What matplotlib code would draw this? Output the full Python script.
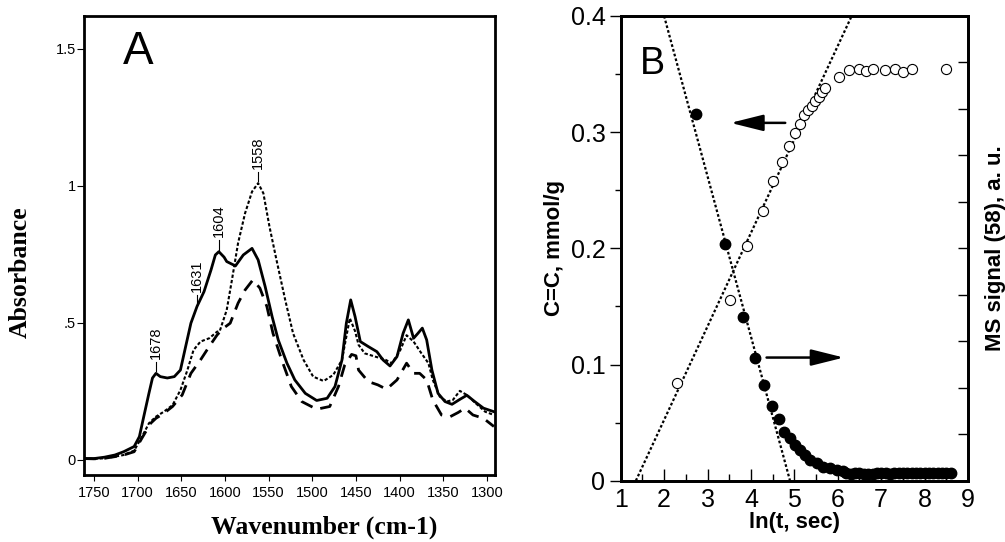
import numpy as np
from matplotlib import pyplot as plt
from matplotlib.ticker import FixedLocator, MultipleLocator

# ---- panel A : IR spectra (wavenumber, absorbance) ----
solid_wn = [1762, 1750, 1738, 1726, 1716, 1704, 1698, 1693, 1687, 1683, 1679,
            1674, 1666, 1658, 1651, 1645, 1639, 1632, 1624, 1616, 1611, 1607,
            1601, 1598, 1588, 1579, 1569, 1562, 1554, 1546, 1539, 1529, 1520,
            1508, 1495, 1483, 1474, 1466, 1461, 1456, 1451, 1445, 1436, 1426,
            1419, 1411, 1403, 1396, 1390, 1384, 1379, 1374, 1369, 1363, 1356,
            1348, 1340, 1331, 1323, 1314, 1304, 1292]
solid_ab = [0.005, 0.005, 0.010, 0.018, 0.030, 0.049, 0.085, 0.158, 0.244, 0.299,
            0.316, 0.304, 0.299, 0.304, 0.328, 0.414, 0.499, 0.560, 0.614, 0.693,
            0.748, 0.760, 0.740, 0.724, 0.708, 0.748, 0.772, 0.730, 0.633, 0.523,
            0.438, 0.353, 0.292, 0.243, 0.217, 0.225, 0.268, 0.365, 0.499, 0.584,
            0.523, 0.432, 0.414, 0.395, 0.365, 0.343, 0.377, 0.462, 0.511, 0.444,
            0.462, 0.481, 0.438, 0.328, 0.243, 0.213, 0.203, 0.221, 0.236, 0.213,
            0.189, 0.176]

dot_wn = [1762, 1750, 1738, 1726, 1716, 1704, 1695, 1687, 1679, 1670, 1660,
          1651, 1643, 1636, 1628, 1618, 1609, 1606, 1598, 1592, 1585, 1577,
          1569, 1562, 1556, 1549, 1541, 1531, 1522, 1510, 1499, 1487, 1476,
          1466, 1461, 1457, 1451, 1447, 1440, 1428, 1417, 1409, 1400, 1392,
          1384, 1375, 1367, 1362, 1354, 1346, 1339, 1331, 1323, 1314, 1302,
          1292]
dot_ab = [0.005, 0.004, 0.006, 0.012, 0.018, 0.034, 0.085, 0.134, 0.158, 0.176,
          0.200, 0.255, 0.328, 0.401, 0.432, 0.444, 0.468, 0.470, 0.547, 0.657,
          0.791, 0.900, 0.979, 1.010, 0.973, 0.851, 0.730, 0.584, 0.462, 0.365,
          0.304, 0.288, 0.310, 0.365, 0.450, 0.517, 0.470, 0.420, 0.389, 0.377,
          0.367, 0.353, 0.395, 0.455, 0.432, 0.389, 0.353, 0.292, 0.231, 0.213,
          0.219, 0.252, 0.237, 0.210, 0.176, 0.164]

dash_wn = [1762, 1750, 1738, 1726, 1716, 1704, 1695, 1685, 1679, 1670, 1660,
           1649, 1639, 1628, 1618, 1609, 1602, 1594, 1585, 1577, 1568, 1560,
           1552, 1545, 1535, 1524, 1512, 1495, 1480, 1470, 1463, 1455, 1450,
           1447, 1436, 1425, 1415, 1403, 1392, 1384, 1377, 1369, 1362, 1352,
           1342, 1333, 1325, 1316, 1304, 1292]
dash_ab = [0.005, 0.004, 0.006, 0.012, 0.018, 0.030, 0.080, 0.134, 0.152, 0.170,
           0.195, 0.237, 0.316, 0.365, 0.414, 0.456, 0.480, 0.499, 0.572, 0.620,
           0.657, 0.627, 0.560, 0.462, 0.365, 0.268, 0.213, 0.185, 0.195, 0.268,
           0.345, 0.385, 0.380, 0.328, 0.286, 0.274, 0.258, 0.292, 0.353, 0.316,
           0.316, 0.292, 0.219, 0.164, 0.158, 0.173, 0.189, 0.164, 0.152, 0.122]

peak_labels = ['1678', '1631', '1604', '1558']
peak_wn = [1679, 1632, 1607, 1562]
peak_ab = [0.318, 0.562, 0.762, 1.012]

# ---- panel B : kinetics ----
cc_x = [2.73, 3.41, 3.81, 4.09, 4.31, 4.49, 4.64, 4.77, 4.90, 5.02, 5.13, 5.25,
        5.36, 5.52, 5.67, 5.82, 5.98, 6.13, 6.2, 6.3, 6.4, 6.5, 6.6, 6.7, 6.8,
        6.9, 7.0, 7.1, 7.2, 7.3, 7.4, 7.5, 7.6, 7.7, 7.8, 7.9, 8.0, 8.1, 8.2,
        8.3, 8.4, 8.5, 8.6]
cc_y = [0.316, 0.204, 0.141, 0.106, 0.082, 0.064, 0.053, 0.042, 0.037, 0.031,
        0.026, 0.022, 0.018, 0.015, 0.012, 0.011, 0.009, 0.008, 0.007, 0.006,
        0.007, 0.007, 0.006, 0.006, 0.006, 0.007, 0.007, 0.007, 0.006, 0.007,
        0.007, 0.007, 0.007, 0.007, 0.007, 0.007, 0.007, 0.007, 0.007, 0.007,
        0.007, 0.007, 0.007]

ms_x = [2.29, 3.52, 3.92, 4.27, 4.50, 4.72, 4.87, 5.01, 5.13, 5.22, 5.32, 5.40,
        5.48, 5.57, 5.63, 5.71, 6.02, 6.27, 6.48, 6.65, 6.82, 7.09, 7.32, 7.51,
        7.71, 8.50]
ms_y = [2.10, 3.89, 5.04, 5.81, 6.45, 6.85, 7.21, 7.48, 7.68, 7.87, 7.98, 8.06,
        8.17, 8.26, 8.37, 8.46, 8.69, 8.84, 8.85, 8.82, 8.85, 8.84, 8.85, 8.80,
        8.85, 8.87]

decay_fit_x = [2.0, 4.90]
decay_fit_y = [0.40, 0.0]
rise_fit_x = [1.35, 6.32]
rise_fit_y = [0.0, 10.0]

sans = 'Liberation Sans'
serif = 'Liberation Serif'
plt.rcParams['font.family'] = sans

fig = plt.figure(figsize=(10.05, 5.42), dpi=100)

# ================= panel A =================
axA = fig.add_axes([0.0836, 0.1236, 0.4089, 0.8469])
axA.plot(solid_wn, solid_ab, color='black', lw=2.0, solid_joinstyle='round')
axA.plot(dot_wn, dot_ab, color='black', lw=1.5, linestyle=(0, (1.6, 1.0)))
axA.plot(dash_wn, dash_ab, color='black', lw=2.0, linestyle=(0, (4.5, 3.0)))

for lab, wn, ab in zip(peak_labels, peak_wn, peak_ab):
    axA.plot([wn, wn], [ab + 0.005, ab + 0.04], color='black', lw=0.8)
    axA.text(wn, ab + 0.05, lab, rotation=90, ha='center', va='bottom',
             fontsize=10.5, family=sans)

axA.set_xlim(1761.4, 1290.8)
axA.set_ylim(-0.055, 1.62)
axA.set_xticks(np.arange(1750, 1299, -50))
axA.set_yticks([0, 0.5, 1, 1.5])
axA.set_yticklabels(['0', '.5', '1', '1.5'])
axA.tick_params(axis='both', direction='out', labelsize=10.5, width=0.8)
axA.tick_params(axis='y', length=5, pad=1)
axA.tick_params(axis='x', length=4, pad=4)
for s in axA.spines.values():
    s.set_linewidth(2.0)
axA.text(0.095, 0.97, 'A', transform=axA.transAxes, fontsize=33,
         ha='left', va='top', family=sans)
fig.text(324 / 1005, 1 - 527 / 542, 'Wavenumber (cm-1)', family=serif,
         fontweight='bold', fontsize=18.5, ha='center', va='center')
fig.text(20 / 1005, 1 - 272 / 542, 'Absorbance', family=serif,
         fontweight='bold', fontsize=18.5, ha='center', va='center',
         rotation=90)

# ================= panel B =================
axB = fig.add_axes([0.6176, 0.1131, 0.3456, 0.8574])
axB.plot(decay_fit_x, decay_fit_y, color='black', lw=1.6,
         linestyle=(0, (1.2, 1.0)))
axB.plot(cc_x, cc_y, 'o', color='black', ms=7.5)
axB.set_xlim(1, 9)
axB.set_ylim(0, 0.4)
axB.xaxis.set_major_locator(MultipleLocator(1))
axB.xaxis.set_minor_locator(MultipleLocator(0.5))
axB.yaxis.set_major_locator(FixedLocator([0, 0.1, 0.2, 0.3, 0.4]))
axB.yaxis.set_minor_locator(MultipleLocator(0.05))
axB.set_yticklabels(['0', '0.1', '0.2', '0.3', '0.4'])
axB.tick_params(axis='x', which='major', direction='in', length=9, width=1,
                labelsize=18, pad=5)
axB.tick_params(axis='x', which='minor', direction='in', length=5, width=1)
axB.tick_params(axis='y', which='major', direction='out', length=8, width=1,
                labelsize=18, pad=3)
axB.tick_params(axis='y', which='minor', direction='out', length=4, width=1)
for s in axB.spines.values():
    s.set_linewidth(2.0)
axB.set_xlabel('ln(t, sec)', fontsize=16, fontweight='bold', labelpad=0)
axB.set_ylabel('C=C, mmol/g', fontsize=16, fontweight='bold', labelpad=4)
axB.text(0.055, 0.935, 'B', transform=axB.transAxes, fontsize=27,
         ha='left', va='top')

arrow_kw = dict(arrowstyle='-|>,head_length=2.0,head_width=0.5',
                mutation_scale=10, color='black', lw=1.8, shrinkA=0, shrinkB=0)
axB.annotate('', xy=(3.53, 0.308), xytext=(4.79, 0.308), arrowprops=arrow_kw)
axB.annotate('', xy=(6.14, 0.106), xytext=(4.36, 0.106), arrowprops=arrow_kw)

ax2 = axB.twinx()
ax2.plot(rise_fit_x, rise_fit_y, color='black', lw=1.6,
         linestyle=(0, (1.2, 1.0)))
ax2.plot(ms_x, ms_y, 'o', mfc='white', mec='black', mew=0.8, ms=7.3)
ax2.set_ylim(0, 10)
ax2.yaxis.set_major_locator(FixedLocator(np.arange(1, 10)))
ax2.tick_params(axis='y', direction='in', length=7, width=1, labelright=False)
ax2.set_ylabel('MS signal (58), a. u.', fontsize=16, fontweight='bold',
               labelpad=12)
for s in ax2.spines.values():
    s.set_linewidth(2.0)

fig.savefig('out.png', dpi=100)
